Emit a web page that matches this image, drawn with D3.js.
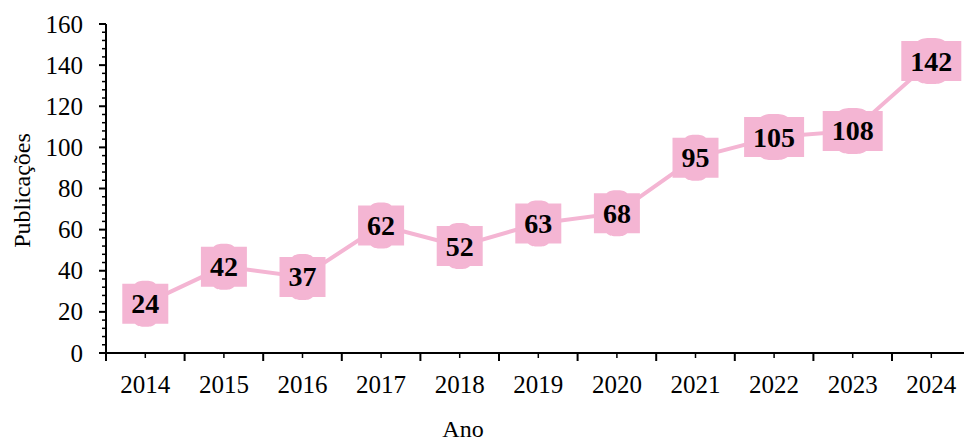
<!DOCTYPE html>
<html>
<head>
<meta charset="utf-8">
<script src="https://cdn.jsdelivr.net/npm/d3@7"></script>
<style>
  body { margin: 0; background: #fff; }
  svg { display: block; }
  svg text { font-family: "Liberation Serif", "Times New Roman", Times, serif; }
</style>
</head>
<body>
<svg id="chart" width="964" height="441"></svg>
<script>
// data
const years = ["2014","2015","2016","2017","2018","2019","2020","2021","2022","2023","2024"];
const pubs = [24, 42, 37, 62, 52, 63, 68, 95, 105, 108, 142];
const yTicks = [0, 20, 40, 60, 80, 100, 120, 140, 160];

const pink = "#f4b5d3";
const svg = d3.select("#chart");

const plotLeft = 106, plotTop = 24, plotBottom = 353;
const bandW = 78.6;

const x = d3.scaleBand()
    .domain(years)
    .range([plotLeft, plotLeft + bandW * years.length])
    .padding(0);

const y = d3.scaleLinear()
    .domain([0, 160])
    .range([plotBottom, plotTop]);

// y axis
const yAxis = svg.append("g");
yAxis.append("line")
    .attr("x1", plotLeft).attr("x2", plotLeft)
    .attr("y1", y(160)).attr("y2", y(0))
    .attr("stroke", "#000").attr("stroke-width", 2);

// minor ticks every 4
yAxis.selectAll(".minor")
    .data(d3.range(0, 161, 4).filter(v => v % 20 !== 0))
    .enter().append("line")
    .attr("x1", plotLeft - 4).attr("x2", plotLeft + 1)
    .attr("y1", d => y(d)).attr("y2", d => y(d))
    .attr("stroke", "#000").attr("stroke-width", 1.5);

yAxis.selectAll(".major")
    .data(yTicks)
    .enter().append("line")
    .attr("x1", plotLeft - 7).attr("x2", plotLeft)
    .attr("y1", d => y(d)).attr("y2", d => y(d))
    .attr("stroke", "#000").attr("stroke-width", 2);

yAxis.selectAll("text")
    .data(yTicks)
    .enter().append("text")
    .attr("x", plotLeft - 23)
    .attr("y", d => y(d))
    .attr("dy", "0.34em")
    .attr("text-anchor", "end")
    .attr("font-size", 25)
    .text(d => d);

// x axis
const xAxis = svg.append("g");
xAxis.append("line")
    .attr("x1", plotLeft - 7).attr("x2", 964)
    .attr("y1", plotBottom).attr("y2", plotBottom)
    .attr("stroke", "#000").attr("stroke-width", 2);

// boundary ticks (longer)
xAxis.selectAll(".bound")
    .data(d3.range(years.length + 1))
    .enter().append("line")
    .attr("x1", i => plotLeft + i * x.bandwidth())
    .attr("x2", i => plotLeft + i * x.bandwidth())
    .attr("y1", plotBottom).attr("y2", plotBottom + 8)
    .attr("stroke", "#000").attr("stroke-width", 2);

// centre ticks (shorter)
xAxis.selectAll(".mid")
    .data(years)
    .enter().append("line")
    .attr("x1", d => x(d) + x.bandwidth() / 2)
    .attr("x2", d => x(d) + x.bandwidth() / 2)
    .attr("y1", plotBottom).attr("y2", plotBottom + 5)
    .attr("stroke", "#000").attr("stroke-width", 1.5);

xAxis.selectAll("text")
    .data(years)
    .enter().append("text")
    .attr("x", d => x(d) + x.bandwidth() / 2)
    .attr("y", plotBottom + 40)
    .attr("text-anchor", "middle")
    .attr("font-size", 25)
    .text(d => d);

// axis titles
svg.append("text")
    .attr("transform", `translate(30, ${(plotTop + plotBottom) / 2 + 2}) rotate(-90)`)
    .attr("text-anchor", "middle")
    .attr("font-size", 24)
    .text("Publicações");

svg.append("text")
    .attr("x", 463)
    .attr("y", 437)
    .attr("text-anchor", "middle")
    .attr("font-size", 24)
    .text("Ano");

// line
const pts = years.map((yr, i) => ({ yr, v: pubs[i] }));
const cx = d => x(d.yr) + x.bandwidth() / 2;

svg.append("path")
    .datum(pts)
    .attr("fill", "none")
    .attr("stroke", pink)
    .attr("stroke-width", 4)
    .attr("d", d3.line().x(cx).y(d => y(d.v)));

// markers: square with a small bulge on top and bottom edge
const bw = 46, bh = 40;
const marker = svg.selectAll(".mk")
    .data(pts)
    .enter().append("g")
    .attr("transform", d => `translate(${cx(d)},${y(d.v)})`);

marker.append("path")
    .attr("fill", pink)
    .attr("d", d => {
        const w = d.v >= 100 ? bw + 14 : bw;
        const hw = w / 2, hh = bh / 2;
        return `M${-hw},${-hh}
            L${-hw * 0.45},${-hh}
            C${-hw * 0.3},${-hh - 3} ${-hw * 0.2},${-hh - 3} 0,${-hh - 3}
            C${hw * 0.2},${-hh - 3} ${hw * 0.3},${-hh - 3} ${hw * 0.45},${-hh}
            L${hw},${-hh}
            L${hw},${hh}
            L${hw * 0.45},${hh}
            C${hw * 0.3},${hh + 3} ${hw * 0.2},${hh + 3} 0,${hh + 3}
            C${-hw * 0.2},${hh + 3} ${-hw * 0.3},${hh + 3} ${-hw * 0.45},${hh}
            L${-hw},${hh} Z`;
    });

marker.append("text")
    .attr("text-anchor", "middle")
    .attr("dy", "0.34em")
    .attr("font-size", 28)
    .attr("font-weight", "bold")
    .attr("fill", "#000")
    .text(d => d.v);
</script>
</body>
</html>
